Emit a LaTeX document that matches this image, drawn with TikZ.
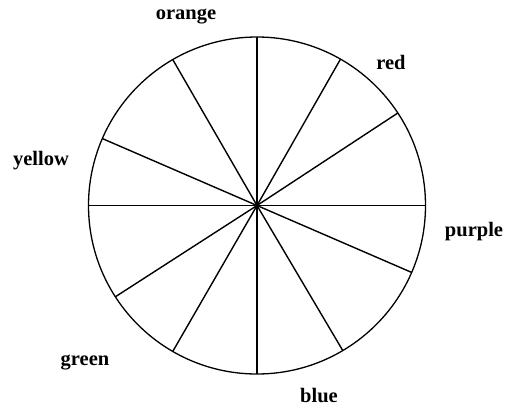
\documentclass[tikz,border=0pt]{standalone}
\usepackage{fontspec}
\setmainfont{Liberation Serif}
\usetikzlibrary{calc}
\begin{document}
\begin{tikzpicture}[x=1pt,y=-1pt,
  spoke/.style={line width=1.4pt},
  rim/.style={line width=1.3pt},
  lbl/.style={font=\fontsize{20.5}{24}\selectfont\bfseries, inner sep=0pt, anchor=base}]
\useasboundingbox (0,0) rectangle (508,407);
\coordinate (c) at (257,205.5);
\draw[rim] (c) circle (168.5);
\foreach \a [count=\i] in {0,33.3,60.3,90,120,156.6,180,212.8,240,270,300.6,336.6}{
  \path (c) ++(-\a:168.5) coordinate (p\i);
  \draw[spoke] (c) -- (p\i);
}
\node[lbl] (orange) at (186,19.5) {orange};
\node[lbl] (red) at (391,69.5) {red};
\node[lbl] (yellow) at (41,165) {yellow};
\node[lbl] (purple) at (474,236.5) {purple};
\node[lbl] (green) at (85,365.5) {green};
\node[lbl] (blue) at (319,402.5) {blue};
\end{tikzpicture}
\end{document}
